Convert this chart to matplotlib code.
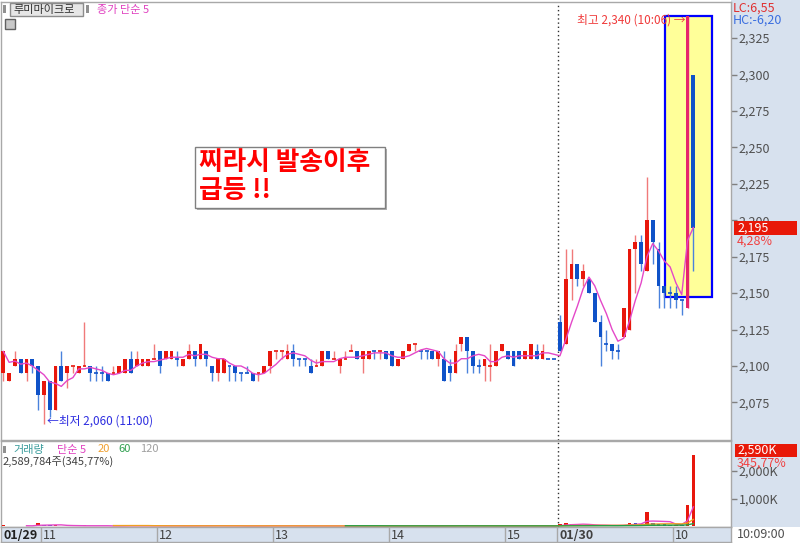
import numpy as np
import pandas as pd
import matplotlib.pyplot as plt
from matplotlib.patches import Rectangle

plt.rcParams['font.family'] = ['Noto Sans CJK KR', 'DejaVu Sans']

# 3분봉: 01/29 10:39 ~ 15:30 (0-95), 01/30 09:00 ~ 10:09 (96-119)
opens = [2095, 2090, 2100, 2105, 2095, 2105, 2100, 2080, 2090, 2070,
         2100, 2095, 2100, 2095, 2100, 2100, 2095, 2095, 2095, 2095,
         2095, 2095, 2105, 2100, 2100, 2100, 2105, 2110, 2105, 2105,
         2105, 2100, 2105, 2110, 2105, 2110, 2100, 2095, 2095, 2100,
         2100, 2095, 2095, 2095, 2095, 2095, 2100, 2110, 2110, 2105,
         2110, 2105, 2105, 2100, 2100, 2100, 2110, 2105, 2100, 2105,
         2110, 2110, 2105, 2105, 2110, 2110, 2110, 2110, 2100, 2105,
         2110, 2115, 2110, 2110, 2110, 2105, 2105, 2100, 2095, 2115,
         2120, 2110, 2100, 2100, 2100, 2100, 2110, 2110, 2110, 2110,
         2105, 2105, 2110, 2105, 2105, 2105, 2130, 2115, 2160, 2170,
         2160, 2160, 2150, 2130, 2115, 2115, 2110, 2120, 2125, 2180,
         2185, 2165, 2200, 2180, 2155, 2150, 2150, 2145, 2140, 2300]
highs = [2110, 2095, 2110, 2105, 2105, 2105, 2100, 2090, 2090, 2100,
         2110, 2100, 2100, 2100, 2130, 2100, 2100, 2100, 2095, 2100,
         2100, 2105, 2110, 2110, 2105, 2105, 2115, 2110, 2110, 2110,
         2110, 2105, 2115, 2110, 2115, 2110, 2100, 2105, 2105, 2100,
         2100, 2095, 2100, 2095, 2095, 2100, 2110, 2110, 2110, 2115,
         2115, 2105, 2105, 2105, 2105, 2110, 2110, 2110, 2105, 2110,
         2115, 2110, 2110, 2110, 2110, 2110, 2110, 2110, 2105, 2110,
         2115, 2115, 2110, 2110, 2110, 2110, 2110, 2105, 2115, 2120,
         2120, 2110, 2105, 2105, 2115, 2110, 2115, 2110, 2110, 2110,
         2110, 2115, 2115, 2115, 2105, 2105, 2135, 2180, 2180, 2170,
         2170, 2160, 2150, 2135, 2125, 2115, 2115, 2140, 2180, 2190,
         2190, 2230, 2200, 2185, 2155, 2155, 2155, 2145, 2340, 2300]
lows = [2090, 2090, 2100, 2095, 2090, 2095, 2070, 2060, 2065, 2070,
        2090, 2085, 2095, 2095, 2100, 2090, 2090, 2090, 2090, 2095,
        2095, 2095, 2095, 2100, 2100, 2100, 2105, 2095, 2105, 2105,
        2100, 2100, 2105, 2100, 2105, 2100, 2090, 2090, 2095, 2090,
        2090, 2090, 2095, 2090, 2090, 2095, 2095, 2105, 2105, 2105,
        2100, 2100, 2100, 2095, 2100, 2100, 2105, 2105, 2095, 2105,
        2110, 2105, 2095, 2105, 2105, 2105, 2105, 2100, 2100, 2105,
        2110, 2110, 2105, 2105, 2105, 2100, 2090, 2090, 2095, 2110,
        2095, 2095, 2095, 2090, 2090, 2100, 2110, 2105, 2100, 2105,
        2105, 2105, 2105, 2105, 2105, 2105, 2110, 2115, 2145, 2155,
        2155, 2150, 2130, 2100, 2110, 2105, 2105, 2120, 2125, 2150,
        2165, 2165, 2170, 2140, 2140, 2140, 2140, 2135, 2140, 2165]
closes = [2110, 2095, 2105, 2095, 2105, 2100, 2080, 2090, 2070, 2100,
          2090, 2100, 2100, 2100, 2100, 2095, 2095, 2095, 2090, 2095,
          2100, 2105, 2095, 2105, 2105, 2105, 2105, 2100, 2110, 2110,
          2105, 2105, 2110, 2105, 2115, 2105, 2095, 2105, 2105, 2100,
          2095, 2095, 2095, 2090, 2095, 2100, 2110, 2110, 2110, 2110,
          2105, 2105, 2105, 2095, 2100, 2110, 2105, 2105, 2105, 2105,
          2110, 2105, 2110, 2110, 2110, 2110, 2105, 2100, 2105, 2110,
          2115, 2115, 2110, 2110, 2105, 2110, 2090, 2095, 2110, 2120,
          2110, 2100, 2100, 2105, 2100, 2110, 2115, 2105, 2100, 2105,
          2110, 2115, 2105, 2110, 2105, 2105, 2110, 2160, 2170, 2160,
          2165, 2150, 2130, 2120, 2115, 2110, 2110, 2140, 2180, 2185,
          2170, 2200, 2185, 2155, 2150, 2150, 2145, 2145, 2340, 2195]
# 보합(시가=종가)인데 파란색으로 그려진 봉
doji_down = [16, 17, 30, 39, 41, 42, 51, 52, 64, 72, 73, 82, 94, 95, 104, 106, 115, 117]
# 거래량 (천주)
volumes = [25, 10, 15, 8, 20, 12, 100, 40, 30, 45,
           20, 10, 8, 12, 30, 15, 8, 10, 12, 6,
           10, 18, 22, 12, 8, 10, 15, 20, 10, 12,
           8, 10, 15, 12, 18, 10, 14, 20, 12, 8,
           10, 6, 5, 12, 8, 10, 20, 8, 6, 12,
           14, 6, 5, 10, 5, 12, 8, 4, 8, 6,
           6, 10, 12, 8, 6, 4, 8, 10, 6, 12,
           14, 6, 5, 4, 8, 10, 20, 12, 18, 22,
           16, 10, 8, 10, 14, 8, 12, 10, 8, 10,
           6, 12, 10, 14, 0, 0, 70, 120, 80, 40,
           50, 30, 40, 35, 20, 15, 25, 60, 120, 110,
           95, 500, 100, 90, 70, 50, 60, 40, 749, 2590]

hour_pos = [6.5, 26.5, 46.5, 66.5, 86.5, 95.5, 115.5]
hour_lbl = ['11', '12', '13', '14', '15', '01/30', '10']
price_ticks = [2075, 2100, 2125, 2150, 2175, 2200, 2225, 2250, 2275, 2300, 2325]

RED, BLUE = '#e8170c', '#0f52c8'
RED_W, BLUE_W = '#f07a7a', '#4a82dc'
PANEL = '#d7e1ee'
GRID = '#a8a8a8'

W, H = 800, 543
def fx(px): return px / W
def fy(py): return 1 - py / H

fig = plt.figure(figsize=(8, 5.43), dpi=100)
fig.patch.set_facecolor('white')
fig.add_artist(Rectangle((fx(731), fy(527)), 69 / W, 527 / H, transform=fig.transFigure,
                         facecolor=PANEL, edgecolor='none', zorder=0))

ax = fig.add_axes([fx(1), fy(440), 730 / W, 438 / H])
axv = fig.add_axes([fx(1), fy(527), 730 / W, 86 / H])
axt = fig.add_axes([fx(1), fy(542), 730 / W, 15 / H])

n = len(closes)
x = np.arange(n)
o, h, l, c = map(np.array, (opens, highs, lows, closes))
hi_idx = int(np.argmax(h))

# --- 가격 캔들 ---
for i in range(n):
    up = c[i] > o[i] or (c[i] == o[i] and i not in doji_down)
    body = RED if up else BLUE
    wick = RED_W if up else BLUE_W
    if i == hi_idx:
        body = wick = '#e6246c'
    ax.vlines(x[i], l[i], h[i], color=wick, lw=1, zorder=3)
    if c[i] == o[i]:
        ax.hlines(c[i], x[i] - 0.33, x[i] + 0.33, color=body, lw=1.2, zorder=3)
    else:
        ax.bar(x[i], abs(c[i] - o[i]), bottom=min(o[i], c[i]), width=0.66,
               color=body, edgecolor='none', zorder=3)

ma5 = pd.Series(closes).rolling(5, min_periods=1).mean()
ax.plot(x, ma5, color='#e448c8', lw=1, zorder=4)

# 급등 구간 강조
ax.add_patch(Rectangle((114.1, 2147.5), 8.1, 192.6, facecolor='#ffff99',
                       edgecolor='#0000ff', lw=1.6, zorder=1))

ax.axvline(95.6, color='#303030', ls=(0, (1, 2)), lw=1, zorder=2)
ax.set_xlim(-0.4, 125.5)
ax.set_ylim(2049.2, 2349.8)
ax.set_xticks([])
ax.yaxis.tick_right()
ax.set_yticks(price_ticks)
ax.set_yticklabels([f"{v:,}" for v in price_ticks])
ax.tick_params(axis='y', direction='out', length=4, width=1, color='#808080',
               labelcolor='#505050', labelsize=9, pad=1.5)

ax.text(117.7, 2337.5, '최고 2,340 (10:06) →', color='#f03a3a', fontsize=8.5,
        ha='right', va='center', zorder=5)
ax.text(7.6, 2062, '←최저 2,060 (11:00)', color='#2d2de0', fontsize=8.5,
        ha='left', va='center', zorder=5)

# --- 거래량 ---
vol = np.array(volumes)
vcol = [RED if i == 0 or vol[i] > vol[i - 1] else BLUE for i in range(n)]
axv.bar(x, vol, width=0.62, color=vcol, edgecolor='none', zorder=3)
vs = pd.Series(volumes)
for win, col in [(5, '#e448c8'), (20, '#f0a020'), (60, '#23a045'), (120, '#a0a0a0')]:
    axv.plot(x, vs.rolling(win).mean(), color=col, lw=1, zorder=4)
axv.axvline(95.6, color='#303030', ls=(0, (1, 2)), lw=1, zorder=2)
axv.set_xlim(-0.4, 125.5)
axv.set_ylim(-30, 3080)
axv.set_xticks([])
axv.yaxis.tick_right()
axv.set_yticks([1000, 2000])
axv.set_yticklabels(['1,000K', '2,000K'])
axv.tick_params(axis='y', direction='out', length=4, width=1, color='#808080',
                labelcolor='#505050', labelsize=9, pad=1.5)

# --- 시간축 ---
axt.set_facecolor(PANEL)
axt.set_xlim(-0.4, 125.5)
axt.set_ylim(0, 1)
axt.set_xticks([])
axt.set_yticks([])
for p in hour_pos:
    axt.axvline(p, color=GRID, lw=1)
axt.text(0.0, 0.45, '01/29', fontsize=9, color='#202020', weight='bold', va='center')
for p, t in zip(hour_pos, hour_lbl):
    axt.text(p + 0.4, 0.45, t, fontsize=9, color='#404040', va='center',
             weight='bold' if '/' in t else 'normal')

for a in (ax, axv, axt):
    for s in a.spines.values():
        s.set_color(GRID)
        s.set_linewidth(1)

# --- 상단 범례 ---
fig.add_artist(Rectangle((fx(3), fy(13)), 3 / W, 8 / H, transform=fig.transFigure,
                         facecolor='#909090', edgecolor='none'))
fig.add_artist(Rectangle((fx(10), fy(16)), 73 / W, 13 / H, transform=fig.transFigure,
                         facecolor='#e6e6e6', edgecolor='#8c8c8c', lw=1))
fig.text(fx(13), fy(9.5), '루미마이크로', fontsize=8, color='#303030', va='center')
fig.add_artist(Rectangle((fx(86), fy(13)), 3 / W, 8 / H, transform=fig.transFigure,
                         facecolor='#909090', edgecolor='none'))
fig.text(fx(97), fy(9.5), '종가 단순 5', fontsize=8, color='#e040c0', va='center')
fig.add_artist(Rectangle((fx(5), fy(29)), 10 / W, 10 / H, transform=fig.transFigure,
                         facecolor='#c8c8c8', edgecolor='#606060', lw=1))

fig.add_artist(Rectangle((fx(3), fy(453)), 3 / W, 7 / H, transform=fig.transFigure,
                         facecolor='#909090', edgecolor='none'))
for px, t, col in [(13, '거래량', '#3a9c9c'), (57, '단순 5', '#e040c0'), (98, '20', '#f0a030'),
                   (118, '60', '#30a050'), (140, '120', '#a0a0a0')]:
    fig.text(fx(px), fy(449.5), t, fontsize=8, color=col, va='center')
fig.text(fx(3), fy(461.5), '2,589,784주(345,77%)', fontsize=8, color='#404040', va='center')

# --- 텍스트 상자 ---
fig.add_artist(Rectangle((fx(197), fy(210)), 190 / W, 61 / H, transform=fig.transFigure,
                         facecolor='#b0b0b0', edgecolor='none'))
fig.add_artist(Rectangle((fx(195), fy(208)), 190 / W, 61 / H, transform=fig.transFigure,
                         facecolor='white', edgecolor='#808080', lw=1))
fig.text(fx(199), fy(163), '찌라시 발송이후', fontsize=18.5, color='#ff0000',
         weight='bold', style='italic', va='center')
fig.text(fx(199), fy(191), '급등 !!', fontsize=18.5, color='#ff0000',
         weight='bold', style='italic', va='center')

# --- 오른쪽 라벨 ---
fig.text(fx(733), fy(8), 'LC:6,55', fontsize=9, color='#e03030', va='center')
fig.text(fx(733), fy(20), 'HC:-6,20', fontsize=9, color='#3a6ee0', va='center')
fig.add_artist(Rectangle((fx(734), fy(235)), 63 / W, 14 / H, transform=fig.transFigure,
                         facecolor='#e81808', edgecolor='none'))
fig.text(fx(737), fy(228), '2,195', fontsize=9, color='white', va='center')
fig.text(fx(737), fy(241), '4,28%', fontsize=9, color='#f04040', va='center')
fig.add_artist(Rectangle((fx(735), fy(457)), 62 / W, 13 / H, transform=fig.transFigure,
                         facecolor='#e81808', edgecolor='none'))
fig.text(fx(737), fy(450.5), '2,590K', fontsize=9, color='white', va='center')
fig.text(fx(737), fy(463), '345,77%', fontsize=9, color='#f04040', va='center')
fig.text(fx(737), fy(535), '10:09:00', fontsize=9, color='#505050', va='center')

fig.savefig('out.png', dpi=100)
